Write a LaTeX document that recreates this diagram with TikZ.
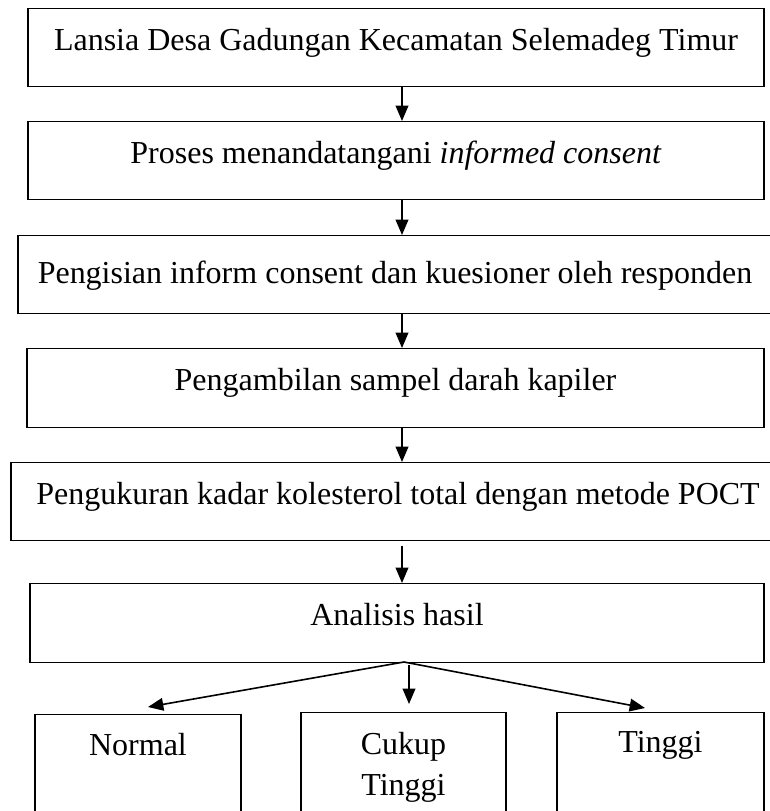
\documentclass[tikz,border=0pt]{standalone}
\usepackage{fontspec}
\setmainfont{Liberation Serif}
\usepackage{tikz}
\usetikzlibrary{arrows.meta,calc}

\tikzset{
  flowbox/.style={draw, rectangle, line width=0.9pt, anchor=north,
    inner xsep=0pt, inner ysep=0pt, text height=31.5pt, text depth=27pt,
    font=\fontsize{24}{31}\selectfont},
  flowarrow/.style={-{Triangle[length=11.5pt,width=9.5pt]}, line width=1.2pt}
}

\begin{document}
\begin{tikzpicture}[x=0.75pt, y=-0.75pt]
\useasboundingbox (0,0) rectangle (770,811);
\clip (0,0) rectangle (770,811);

% Main steps
\node[flowbox, minimum width=552pt] (lansia) at (396,8) {Lansia Desa Gadungan Kecamatan Selemadeg Timur};
\node[flowbox, minimum width=552pt] (consent) at (396,121) {Proses menandatangani \textit{informed consent}};
\node[flowbox, minimum width=565.5pt, text height=36pt, text depth=22.5pt] (kuesioner) at (395,235) {Pengisian inform consent dan kuesioner oleh responden};
\node[flowbox, minimum width=552.75pt, text depth=27.75pt] (sampel) at (395.5,348) {Pengambilan sampel darah kapiler};
\node[flowbox, minimum width=580.5pt] (ukur) at (398,462) {Pengukuran kadar kolesterol total dengan metode POCT};
\node[flowbox, minimum width=550.5pt, text depth=27.75pt] (analisis) at (397,583) {Analisis hasil};

% Result classes
\node[flowbox, minimum width=154.5pt, text height=30.75pt, text depth=70pt] (normal) at (138,714) {Normal};
\node[flowbox, minimum width=153.75pt, text height=31.5pt, text depth=70pt] (cukup) at (403.5,712) {\begin{tabular}[t]{@{}c@{}}Cukup\\Tinggi\end{tabular}};
\node[flowbox, minimum width=155.25pt, text height=30pt, text depth=70pt] (tinggi) at (660.5,712) {Tinggi};

% Step arrows
\coordinate (axis) at (402,0);
\foreach \from/\to in {lansia/consent, consent/kuesioner, kuesioner/sampel, sampel/ukur}
    \draw[flowarrow] (axis |- \from.south) -- (axis |- \to.north);
\draw[flowarrow, shorten <=3.75pt] (axis |- ukur.south) -- (axis |- analisis.north);

% Fan out to the classes
\coordinate (fan) at (404,662);
\draw[flowarrow] (fan) -- ($(normal.north)+(10,-7)$);
\draw[flowarrow] ($(fan)+(5,3)$) -- ($(cukup.north)+(5.5,-8)$);
\draw[flowarrow] (fan) -- ($(tinggi.north)+(-15.5,-4)$);
\end{tikzpicture}
\end{document}
